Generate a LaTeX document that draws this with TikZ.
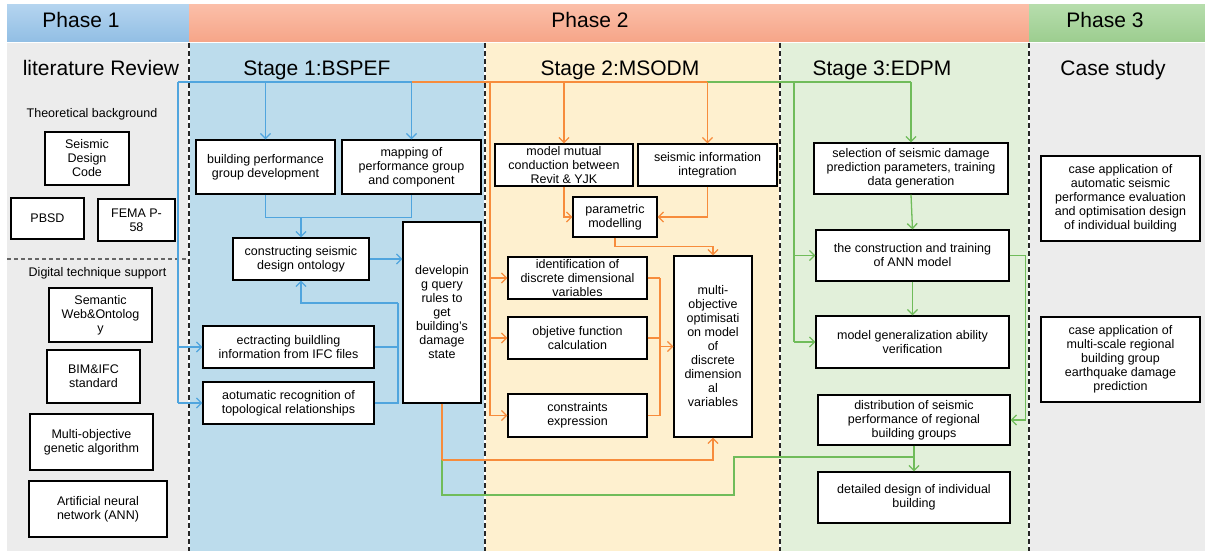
\documentclass[tikz,border=0pt]{standalone}
\usepackage{fontspec}
\setmainfont{Liberation Sans}
\usetikzlibrary{arrows.meta}
\definecolor{lineblue}{RGB}{80,165,222}
\definecolor{lineorange}{RGB}{247,140,60}
\definecolor{linegreen}{RGB}{112,188,90}
\definecolor{bggray}{RGB}{236,236,236}
\definecolor{bgblue}{RGB}{188,220,236}
\definecolor{bgorange}{RGB}{254,240,207}
\definecolor{bggreen}{RGB}{226,240,218}
\definecolor{hdblueT}{RGB}{180,212,239}
\definecolor{hdblueB}{RGB}{145,190,228}
\definecolor{hdredT}{RGB}{251,190,168}
\definecolor{hdredB}{RGB}{246,165,136}
\definecolor{hdgreenT}{RGB}{182,221,172}
\definecolor{hdgreenB}{RGB}{156,205,143}
\begin{document}
\begin{tikzpicture}[x=1pt,y=-1pt,
  blk/.style={draw=black, line width=1.2pt, fill=white, inner sep=0pt, align=center,
    font=\fontsize{12.5}{14}\selectfont},
  title/.style={anchor=base, font=\fontsize{21}{25}\selectfont},
  sub/.style={anchor=base, font=\fontsize{12.5}{14}\selectfont},
  tip/.style={-{Straight Barb[length=5pt,width=10pt]}},
  bl/.style={draw=lineblue, line width=1.3pt},
  org/.style={draw=lineorange, line width=1.3pt},
  grn/.style={draw=linegreen, line width=1.3pt},
  sep/.style={line width=1.5pt, dash pattern=on 5pt off 3pt}]

\useasboundingbox (0,0) rectangle (1205,551);
\fill[white] (0,0) rectangle (1205,551);

% phase header bars
\shade[top color=hdblueT, bottom color=hdblueB] (7,5) rectangle (189,42);
\shade[top color=hdredT, bottom color=hdredB] (189,5) rectangle (1029,42);
\shade[top color=hdgreenT, bottom color=hdgreenB] (1029,5) rectangle (1205,42);
\node[title] (ph1) at (81,28) {Phase 1};
\node[title] (ph2) at (590,28) {Phase 2};
\node[title] (ph3) at (1105,28) {Phase 3};

% column backgrounds
\fill[bggray]   (7,43)    rectangle (189,551);
\fill[bgblue]   (189,43)  rectangle (485,551);
\fill[bgorange] (485,43)  rectangle (780,551);
\fill[bggreen]  (780,43)  rectangle (1029,551);
\fill[bggray]   (1029,43) rectangle (1205,551);

% column separators
\foreach \xs in {189,485,780,1029}{
  \draw[white, line width=1.5pt] (\xs,43) -- (\xs,551);
  \draw[sep, black!85] (\xs,43) -- (\xs,551);
}
\draw[line width=1.3pt, black!60, dash pattern=on 4pt off 3pt] (7,259) -- (189,259);

% column titles
\node[title] (t0) at (101,76) {literature Review};
\node[title] (t1) at (317,76) {Stage 1:BSPEF};
\node[title] (t2) at (620,76) {Stage 2:MSODM};
\node[title] (t3) at (882,76) {Stage 3:EDPM};
\node[title] (t4) at (1113,76) {Case study};
\node[sub] (tb) at (92,117.5) {Theoretical background};
\node[sub] (dt) at (97.5,276) {Digital technique support};

% literature review boxes
\node[blk, minimum width=84pt, minimum height=53pt] (sdc) at (87,158.5) {Seismic\\Design\\Code};
\node[blk, minimum width=73pt, minimum height=41pt] (pbsd) at (47.5,218.5) {PBSD};
\node[blk, minimum width=77pt, minimum height=42pt] (fema) at (136.5,220) {FEMA P-\\58};
\node[blk, minimum width=103pt, minimum height=54pt] (sem) at (100.5,315) {Semantic\\Web\&Ontolog\\y};
\node[blk, minimum width=93pt, minimum height=53pt] (bim) at (93.5,376.5) {BIM\&IFC\\standard};
\node[blk, minimum width=123pt, minimum height=56pt] (moga) at (91.5,442) {Multi-objective\\genetic algorithm};
\node[blk, minimum width=138pt, minimum height=56pt] (ann) at (98,509) {Artificial neural\\network (ANN)};

% stage 1 boxes
\node[blk, minimum width=139pt, minimum height=54pt] (bpg) at (265.5,167) {building performance\\group development};
\node[blk, minimum width=139pt, minimum height=54pt] (map) at (411.5,167) {mapping of\\performance group\\and component};
\node[blk, minimum width=136pt, minimum height=42pt] (cons) at (301,259) {constructing seismic\\design ontology};
\node[blk, minimum width=78pt, minimum height=181pt] (dev) at (442,312.5) {developin\\g query\\rules to\\get\\building's\\damage\\state};
\node[blk, minimum width=171pt, minimum height=42pt] (ect) at (288.5,347) {ectracting buildling\\information from IFC files};
\node[blk, minimum width=171pt, minimum height=42pt] (aot) at (288.5,403) {aotumatic recognition of\\topological relationships};

% stage 2 boxes
\node[blk, minimum width=138pt, minimum height=42pt] (mmc) at (564,165) {model mutual\\conduction between\\Revit \& YJK};
\node[blk, minimum width=139pt, minimum height=42pt] (sii) at (707.5,165) {seismic information\\integration};
\node[blk, minimum width=84pt, minimum height=40pt] (par) at (615,217) {parametric\\modelling};
\node[blk, minimum width=139pt, minimum height=42pt] (idv) at (577.5,278) {identification of\\discrete dimensional\\variables};
\node[blk, minimum width=139pt, minimum height=42pt] (obj) at (577.5,338) {objetive function\\calculation};
\node[blk, minimum width=139pt, minimum height=43pt] (con) at (577.5,415.5) {constraints\\expression};
\node[blk, minimum width=78pt, minimum height=181pt] (mo) at (713,346.5) {multi-\\objective\\optimisati\\on model\\of\\discrete\\dimension\\al\\variables};

% stage 3 boxes
\node[blk, minimum width=194pt, minimum height=51pt] (sel) at (911,168.5) {selection of seismic damage\\prediction parameters, training\\data generation};
\node[blk, minimum width=193pt, minimum height=51pt] (trn) at (912.5,255.5) {the construction and training\\of ANN model};
\node[blk, minimum width=193pt, minimum height=52pt] (gen) at (912.5,342) {model generalization ability\\verification};
\node[blk, minimum width=192pt, minimum height=50pt] (dist) at (914,420) {distribution of seismic\\performance of regional\\building groups};
\node[blk, minimum width=192pt, minimum height=51pt] (det) at (914,497.5) {detailed design of individual\\building};

% case study boxes
\node[blk, minimum width=159pt, minimum height=85pt] (cs1) at (1120.5,198.5) {case application of\\automatic seismic\\performance evaluation\\and optimisation design\\of individual building};
\node[blk, minimum width=159pt, minimum height=85pt] (cs2) at (1120.5,359.5) {case application of\\multi-scale regional\\building group\\earthquake damage\\prediction};

% junction points of the buses
\coordinate (bL) at (178,82);
\coordinate (bO) at (412,82);
\coordinate (bG) at (707,82);
\coordinate (oV) at (490,82);
\coordinate (gV) at (794,82);
\coordinate (bR) at (398,303);
\coordinate (oM) at (660,278);
\coordinate (gD) at (442,460);

% stage 1 connectors (blue)
\draw[bl] (bL) -- (bO);
\draw[bl] (bL) -- (bL |- aot.west);
\draw[bl, tip] (bL |- ect.west) -- (ect.west);
\draw[bl, tip] (bL |- aot.west) -- (aot.west);
\draw[bl, tip] (bpg.north |- bL) -- (bpg.north);
\draw[bl, tip] (map.north |- bL) -- (map.north);
\draw[bl] (bpg.south) -- ++(0,23) -| (map.south);
\draw[bl, tip] (cons.north |- 0,217) -- (cons.north);
\draw[bl, tip] (cons.east) -- (cons.east -| dev.west);
\draw[bl] (ect.east) -- (ect.east -| bR);
\draw[bl] (aot.east) -| (bR);
\draw[bl, tip] (bR) -| (cons.south);

% stage 3 connectors (green)
\draw[grn] (bG) -- (sel.north |- bG);
\draw[grn, tip] (sel.north |- bG) -- (sel.north);
\draw[grn] (gV) -- (gV |- gen.west);
\draw[grn, tip] (gV |- trn.west) -- (trn.west);
\draw[grn, tip] (gV |- gen.west) -- (gen.west);
\draw[grn, tip] (sel.south) -- (trn.north);
\draw[grn, tip] (trn.south) -- (gen.north);
\draw[grn, tip] (trn.east) -- ++(16,0) |- (dist.east);
\draw[grn, tip] (dist.south) -- (det.north);
\draw[grn] (gD) -- (442,495) -| (734,457) -- (det.north |- 0,457);

% stage 2 connectors (orange)
\draw[org] (bO) -- (bG);
\draw[org] (oV) -- (oV |- con.west);
\draw[org, tip] (oV |- idv.west) -- (idv.west);
\draw[org, tip] (oV |- obj.west) -- (obj.west);
\draw[org, tip] (oV |- con.west) -- (con.west);
\draw[org, tip] (mmc.north |- bO) -- (mmc.north);
\draw[org, tip] (sii.north |- bG) -- (sii.north);
\draw[org, tip] (mmc.south) |- (par.west);
\draw[org, tip] (sii.south) |- (par.east);
\draw[org, tip] (par.south) -- ++(0,9) -| (mo.north);
\draw[org] (idv.east) -- (oM);
\draw[org] (obj.east) -- (obj.east -| oM);
\draw[org] (con.east) -| (oM);
\draw[org, tip] (oM |- mo.west) -- (mo.west);
\draw[org] (dev.south) -- (gD);
\draw[org, tip] (gD) -| (mo.south);
\end{tikzpicture}
\end{document}
